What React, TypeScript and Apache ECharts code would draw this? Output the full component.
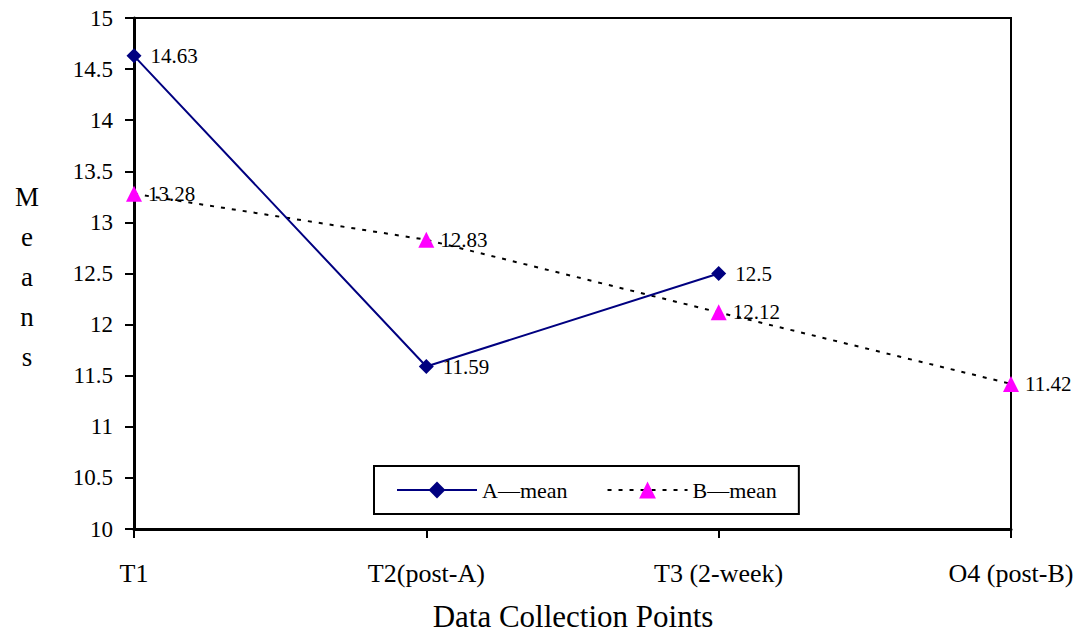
import React, { useEffect, useRef } from "react";
import * as echarts from "echarts";

const categories = ["T1", "T2(post-A)", "T3 (2-week)", "O4 (post-B)"];
const seriesA = [14.63, 11.59, 12.5, null];
const seriesB = [13.28, 12.83, 12.12, 11.42];
const yMin = 10;
const yMax = 15;
const yInterval = 0.5;

const FONT = "Liberation Serif";

export default function App() {
  const ref = useRef<HTMLDivElement>(null);
  useEffect(() => {
    if (!ref.current) return;
    const chart = echarts.init(ref.current, undefined, { renderer: "svg" });
    chart.setOption({
      animation: false,
      backgroundColor: "#ffffff",
      textStyle: { fontFamily: FONT, color: "#000" },
      grid: {
        left: 134,
        right: 73,
        top: 18,
        bottom: 104,
        show: true,
        borderColor: "#000",
        borderWidth: 2,
      },
      xAxis: {
        type: "category",
        data: categories,
        boundaryGap: false,
        axisLine: { lineStyle: { color: "#000", width: 3 } },
        axisTick: { show: true, inside: false, length: 9, lineStyle: { color: "#000", width: 2 } },
        axisLabel: { color: "#000", fontFamily: FONT, fontSize: 26, margin: 31 },
        splitLine: { show: false },
      },
      yAxis: {
        type: "value",
        min: yMin,
        max: yMax,
        interval: yInterval,
        axisLine: { show: true, lineStyle: { color: "#000", width: 3 } },
        axisTick: { show: true, inside: false, length: 9, lineStyle: { color: "#000", width: 2 } },
        axisLabel: { color: "#000", fontFamily: FONT, fontSize: 23, margin: 21 },
        splitLine: { show: false },
      },
      legend: {
        left: 374,
        top: 466,
        orient: "horizontal",
        borderColor: "#000",
        borderWidth: 2,
        padding: [13, 22, 13, 22],
        itemWidth: 80,
        itemHeight: 21,
        itemGap: 39,
        textStyle: { fontFamily: FONT, fontSize: 22, color: "#000" },
        data: ["A\u2014mean", "B\u2014mean"],
      },
      graphic: [
        {
          type: "text",
          x: 27,
          y: 177,
          style: {
            text: "M\ne\na\nn\ns",
            fontFamily: FONT,
            fontSize: 27,
            lineHeight: 40,
            fill: "#000",
            align: "center",
            verticalAlign: "top",
          },
        },
        {
          type: "text",
          x: 573,
          y: 616,
          style: {
            text: "Data Collection Points",
            fontFamily: FONT,
            fontSize: 31,
            fill: "#000",
            align: "center",
            verticalAlign: "middle",
          },
        },
      ],
      series: [
        {
          name: "A\u2014mean",
          type: "line",
          data: seriesA,
          symbol: "diamond",
          symbolSize: 15,
          itemStyle: { color: "#000080" },
          lineStyle: { color: "#000080", width: 2 },
          label: {
            show: true,
            position: "right",
            distance: 9,
            fontFamily: FONT,
            fontSize: 21,
            color: "#000",
          },
          z: 3,
        },
        {
          name: "B\u2014mean",
          type: "line",
          data: seriesB,
          symbol: "triangle",
          symbolSize: 16,
          itemStyle: { color: "#FF00FF" },
          lineStyle: { color: "#000", width: 2, type: [4, 7] },
          label: {
            show: true,
            position: "right",
            distance: 6,
            fontFamily: FONT,
            fontSize: 21,
            color: "#000",
          },
          z: 2,
        },
      ],
    });
    return () => chart.dispose();
  }, []);
  return (
    <div style={{ position: "absolute", left: 0, top: 0 }}>
      <div ref={ref} style={{ width: 1084, height: 633 }} />
    </div>
  );
}
